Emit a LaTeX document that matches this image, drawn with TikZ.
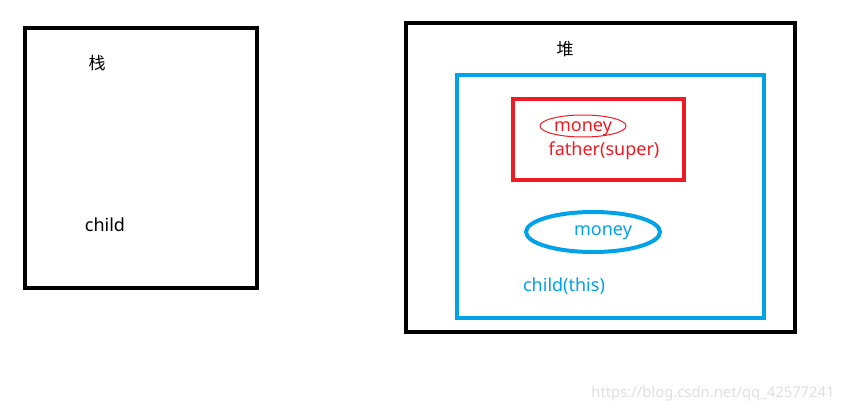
\documentclass[tikz,border=0pt]{standalone}
\usetikzlibrary{shapes.geometric}
\usepackage{fontspec}
\setmainfont{Noto Sans}
\newfontfamily\cjk{Noto Sans CJK SC}
\definecolor{pred}{RGB}{237,28,36}
\definecolor{pblue}{RGB}{0,162,232}
\begin{document}
\begin{tikzpicture}[x=1pt,y=-1pt,
  blk/.style={draw=black,line width=4pt},
  lbl/.style={inner sep=0pt,font=\fontsize{18}{21}\selectfont},
  cn/.style={inner sep=0pt,font=\cjk\fontsize{17}{20}\selectfont}]
\useasboundingbox[fill=white] (0,0) rectangle (842,412);
\draw[blk] (25,28) rectangle (257,288);
\draw[blk] (406,23) rectangle (795,332);
\draw[draw=pblue,line width=4pt] (457,75) rectangle (764,318);
\draw[draw=pred,line width=4pt] (513,99) rectangle (684,180);
\node[cn] (zhan) at (97,63) {栈};
\node[lbl] (child) at (105,225) {child};
\node[cn] (dui) at (565,49) {堆};
\node[draw=pred,line width=1pt,ellipse,minimum width=86pt,minimum height=22pt,inner sep=0pt] (e1) at (583,126) {};
\node[lbl,text=pred] (m1) at (583,129) {money};
\node[lbl,text=pred] (father) at (604,151) {father(super)};
\node[draw=pblue,line width=4pt,ellipse,minimum width=134pt,minimum height=40pt,inner sep=0pt] (e2) at (593,232) {};
\node[lbl,text=pblue] (m2) at (603,233) {money};
\node[lbl,text=pblue] (cthis) at (564,286) {child(this)};
\node[inner sep=0pt,text=black!12,font=\fontsize{14.8}{17}\selectfont] (wm) at (713,394) {https://blog.csdn.net/qq\_42577241};
\end{tikzpicture}
\end{document}
